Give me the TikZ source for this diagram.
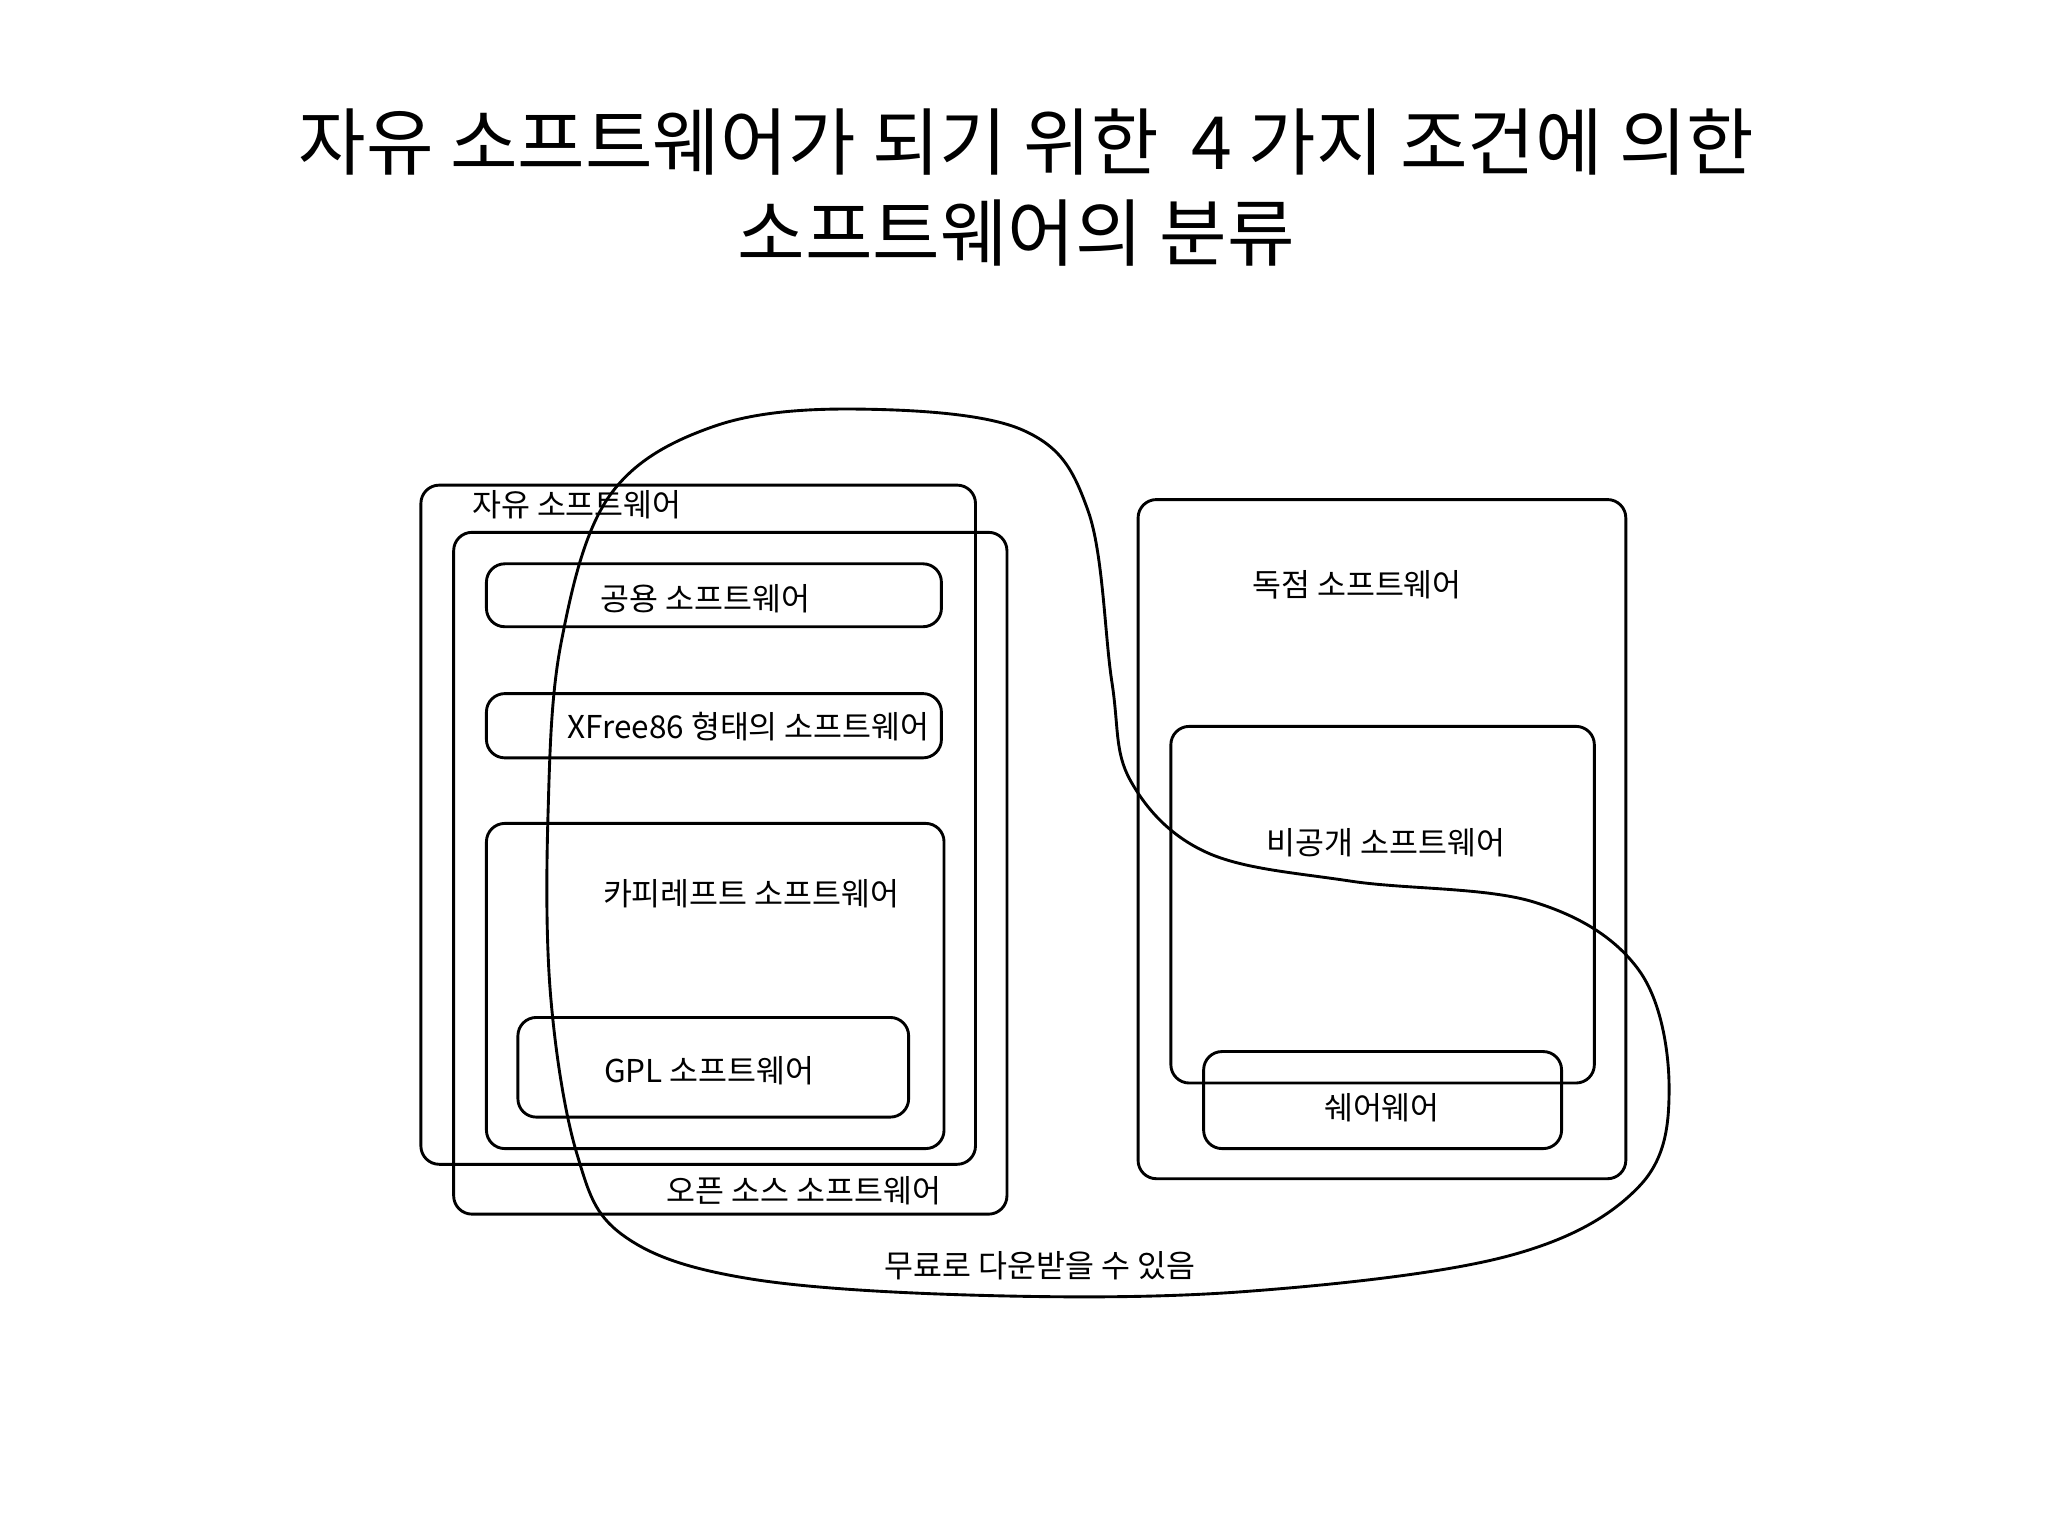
\documentclass[tikz,border=0pt]{standalone}
\usepackage{fontspec}
\setmainfont{Noto Sans CJK KR}
\begin{document}
\begin{tikzpicture}[x=1pt,y=-1pt,
  bx/.style={draw,line width=2.2pt,rounded corners=14pt},
  lbl/.style={font=\fontsize{24}{28}\selectfont,inner sep=0pt},
  ttl/.style={font=\fontsize{56}{66}\selectfont,inner sep=0pt,align=center}]
\useasboundingbox (0,0) rectangle (1562,1171);
\fill[white] (0,0) rectangle (1562,1171);
\node[ttl] (t1) at (783,108) {자유 소프트웨어가 되기 위한 \ 4 가지 조건에 의한};
\node[ttl] (t2) at (775,178) {소프트웨어의 분류};
\draw[bx] (321,370) rectangle (744,888);
\draw[bx] (346,406) rectangle (768,926);
\draw[bx] (371,430) rectangle (718,478);
\draw[bx] (371,529) rectangle (718,578);
\draw[bx] (371,628) rectangle (720,876);
\draw[bx] (395,776) rectangle (693,852);
\draw[bx] (868,381) rectangle (1240,899);
\draw[bx] (893,554) rectangle (1216,826);
\draw[bx] (918,802) rectangle (1191,876);
\node[lbl] (a) at (440,385) {자유 소프트웨어};
\node[lbl] (b) at (538,457) {공용 소프트웨어};
\node[lbl] (c) at (571,554) {XFree86 형태의 소프트웨어};
\node[lbl] (d) at (573,682) {카피레프트 소프트웨어};
\node[lbl] (e) at (541,817) {GPL 소프트웨어};
\node[lbl] (f) at (613,908) {오픈 소스 소프트웨어};
\node[lbl] (g) at (1035,446) {독점 소프트웨어};
\node[lbl] (h) at (1057,643) {비공개 소프트웨어};
\node[lbl] (i) at (1054,845) {쉐어웨어};
\node[lbl] (j) at (793,965) {무료로 다운받을 수 있음};
\draw[line width=2.2pt] plot[smooth cycle,tension=0.6] coordinates {
(655,312) (780,328) (830,390) (848,520) (862,595) (920,650) (1030,672) (1170,688) (1250,740) (1273,830) (1250,905) (1150,958) (950,985) (750,988) (570,975) (475,942) (440,880) (420,760) (418,620) (428,490) (465,378) (545,325)};
\end{tikzpicture}
\end{document}
